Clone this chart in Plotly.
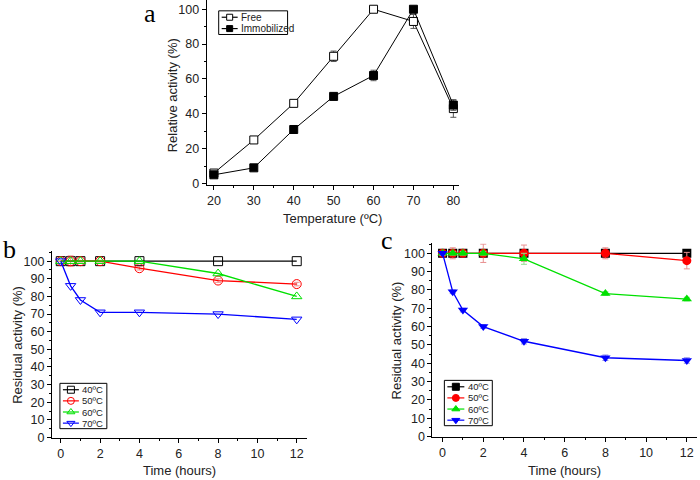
import plotly.graph_objects as go

# ---- Panel a data ----
temps = [20, 30, 40, 50, 60, 70, 80]
free = [6, 25, 46, 73, 100, 93, 43]
free_err = [1, 1.5, 1.5, 3, 0.5, 4, 5]
immob = [5, 9, 31, 50, 62, 100, 45]
immob_err = [1, 1, 1, 2, 3, 1, 3]
a_names = ["Free", "Immobilized"]

# ---- Panels b and c data ----
hours = [0, 0.5, 1, 2, 4, 8, 12]
series_names = ["40ºC", "50ºC", "60ºC", "70ºC"]
b_40 = [100, 100, 100, 100, 100, 100, 100]
b_50 = [100, 100, 100, 100, 96, 89, 87]
b_60 = [100, 100, 100, 100, 100, 93, 80]
b_70 = [100, 86, 78, 71, 71, 70, 67]
b_err50 = [0, 3, 0.5, 0.5, 1, 1, 1]

c_40 = [100, 100, 100, 100, 100, 100, 100]
c_50 = [100, 100, 100, 100, 100, 100, 96]
c_60 = [100, 100, 100, 100, 97, 78, 75]
c_70 = [100, 79, 69, 60, 52, 43, 41.5]
c_err50 = [0, 3, 1, 5, 4.5, 3, 4.5]
c_err60 = [1, 1, 1, 1, 3, 1, 1]
c_err70 = [1, 1, 1, 1, 1.5, 1.5, 1.5]

colors = ["#000000", "#ff0000", "#00e000", "#0000ff"]
err_colors = ["#888888", "#e89090", "#90e090", "#9090e8"]
open_syms = ["square-open", "circle-open", "triangle-up-open", "triangle-down-open"]
fill_syms = ["square", "circle", "triangle-up", "triangle-down"]

FONT = "Liberation Sans, Arial, sans-serif"
SERIF = "Liberation Serif, Times New Roman, serif"
fig = go.Figure()

# Panel a
a_vals = [free, immob]
a_errs = [free_err, immob_err]
a_fill = ["white", "black"]
for i in range(2):
    fig.add_trace(go.Scatter(x=temps, y=a_vals[i], mode="lines+markers", name=a_names[i],
                             line=dict(color="black", width=1),
                             marker=dict(symbol="square", size=8, color=a_fill[i],
                                         line=dict(color="black", width=1)),
                             error_y=dict(type="data", array=a_errs[i], color="#555555",
                                          thickness=1, width=3),
                             xaxis="x", yaxis="y", showlegend=False))

# Panel b
b_vals = [b_40, b_50, b_60, b_70]
b_errs = [None, b_err50, None, None]
for i in range(4):
    err = dict(type="data", array=b_errs[i], color=err_colors[i], thickness=1, width=3) if b_errs[i] else None
    fig.add_trace(go.Scatter(x=hours, y=b_vals[i], mode="lines+markers", name=series_names[i],
                             line=dict(color=colors[i], width=1.3),
                             marker=dict(symbol=open_syms[i], size=9, color=colors[i],
                                         line=dict(width=1)),
                             error_y=err, xaxis="x2", yaxis="y2", showlegend=False))

# Panel c
c_vals = [c_40, c_50, c_60, c_70]
c_errs = [None, c_err50, c_err60, c_err70]
for i in range(4):
    err = dict(type="data", array=c_errs[i], color=err_colors[i], thickness=1, width=3) if c_errs[i] else None
    fig.add_trace(go.Scatter(x=hours, y=c_vals[i], mode="lines+markers", name=series_names[i],
                             line=dict(color=colors[i], width=1.3),
                             marker=dict(symbol=fill_syms[i], size=9, color=colors[i]),
                             error_y=err, xaxis="x3", yaxis="y3", showlegend=False))

# ---- Compact legends drawn on a pixel overlay axis (x4/y4) ----
def add_legend(box, names, syms, line_cols, mark_cols, fills, y0, dy, lx0, lx1, tx, msize, fsize):
    fig.add_shape(type="rect", xref="x4", yref="y4", x0=box[0], x1=box[1], y0=box[2], y1=box[3],
                  line=dict(color="black", width=1), fillcolor="white", layer="below")
    for i, nm in enumerate(names):
        yy = y0 + i * dy
        fig.add_trace(go.Scatter(x=[lx0, lx1], y=[yy, yy], mode="lines",
                                 line=dict(color=line_cols[i], width=1.2),
                                 xaxis="x4", yaxis="y4", showlegend=False, hoverinfo="skip",
                                 cliponaxis=False))
        fig.add_trace(go.Scatter(x=[(lx0 + lx1) / 2], y=[yy], mode="markers",
                                 marker=dict(symbol=syms[i], size=msize, color=fills[i],
                                             line=dict(color=mark_cols[i], width=1)),
                                 xaxis="x4", yaxis="y4", showlegend=False, hoverinfo="skip",
                                 cliponaxis=False))
        fig.add_annotation(text=nm, xref="x4", yref="y4", x=tx, y=yy, showarrow=False,
                           xanchor="left", yanchor="middle", borderpad=0,
                           font=dict(family=FONT, size=fsize, color="#222222"))

add_legend((219, 288, 11, 35), a_names, ["square", "square"], ["black", "black"],
           ["black", "black"], ["white", "black"], 17.5, 11.5, 222, 238, 240, 6, 10)
add_legend((60, 107, 389, 435), series_names, open_syms, colors, colors,
           colors, 395.5, 11.3, 63, 79, 81, 7, 9.5)
add_legend((445, 493, 386, 432), series_names, fill_syms, colors, colors,
           colors, 392.5, 11.3, 448, 465, 468, 7, 9.5)

axis_common = dict(showline=True, linecolor="black", linewidth=1, ticks="outside",
                   ticklen=4, tickcolor="black", showgrid=False, zeroline=False,
                   tickfont=dict(family=FONT, size=12.5, color="#222222"), mirror=False)
minor_common = dict(ticks="outside", ticklen=2, tickcolor="black")

fig.update_layout(
    width=700, height=480,
    margin=dict(l=0, r=0, t=0, b=0),
    paper_bgcolor="white", plot_bgcolor="rgba(0,0,0,0)",
    font=dict(family=FONT, size=12, color="#222222"),
    showlegend=False,
    xaxis=dict(domain=[207/700, 460/700], range=[18.2, 81.5], dtick=10, tick0=20,
               minor=dict(dtick=5, **minor_common), anchor="y", **axis_common),
    yaxis=dict(domain=[1-188/480, 1.0], range=[-1, 105.3], dtick=20, tick0=0,
               minor=dict(dtick=10, **minor_common), anchor="x", **axis_common),
    xaxis2=dict(domain=[52/700, 307/700], range=[-0.45, 12.5], dtick=2, tick0=0,
                minor=dict(dtick=1, **minor_common), anchor="y2", **axis_common),
    yaxis2=dict(domain=[1-444/480, 1-255/480], range=[0, 105.6], dtick=10, tick0=0,
                minor=dict(dtick=5, **minor_common), anchor="x2", **axis_common),
    xaxis3=dict(domain=[433/700, 698/700], range=[-0.5, 12.5], dtick=2, tick0=0,
                minor=dict(dtick=1, **minor_common), anchor="y3", **axis_common),
    yaxis3=dict(domain=[1-443/480, 1-247/480], range=[0, 105.4], dtick=10, tick0=0,
                minor=dict(dtick=5, **minor_common), anchor="x3", **axis_common),
    xaxis4=dict(domain=[0, 1], range=[0, 700], visible=False, anchor="y4", fixedrange=True),
    yaxis4=dict(domain=[0, 1], range=[480, 0], visible=False, anchor="x4", fixedrange=True),
)

annots = [
    dict(text="Relative activity (%)", x=173, y=97, textangle=-90, font=dict(size=13)),
    dict(text="Temperature (ºC)", x=333, y=222, font=dict(size=13)),
    dict(text="Residual activity (%)", x=18, y=350, textangle=-90, font=dict(size=13)),
    dict(text="Time (hours)", x=180, y=477, font=dict(size=13)),
    dict(text="Residual activity (%)", x=398, y=345, textangle=-90, font=dict(size=13)),
    dict(text="Time (hours)", x=565, y=477, font=dict(size=13)),
    dict(text="a", x=150, y=14, font=dict(family=SERIF, size=26, color="black")),
    dict(text="b", x=10, y=253, font=dict(family=SERIF, size=26, color="black")),
    dict(text="c", x=388, y=244, font=dict(family=SERIF, size=26, color="black")),
]
for a in annots:
    a.update(xref="x4", yref="y4", showarrow=False, xanchor="center", yanchor="middle")
    fig.add_annotation(**a)

fig.write_html("out.html")
